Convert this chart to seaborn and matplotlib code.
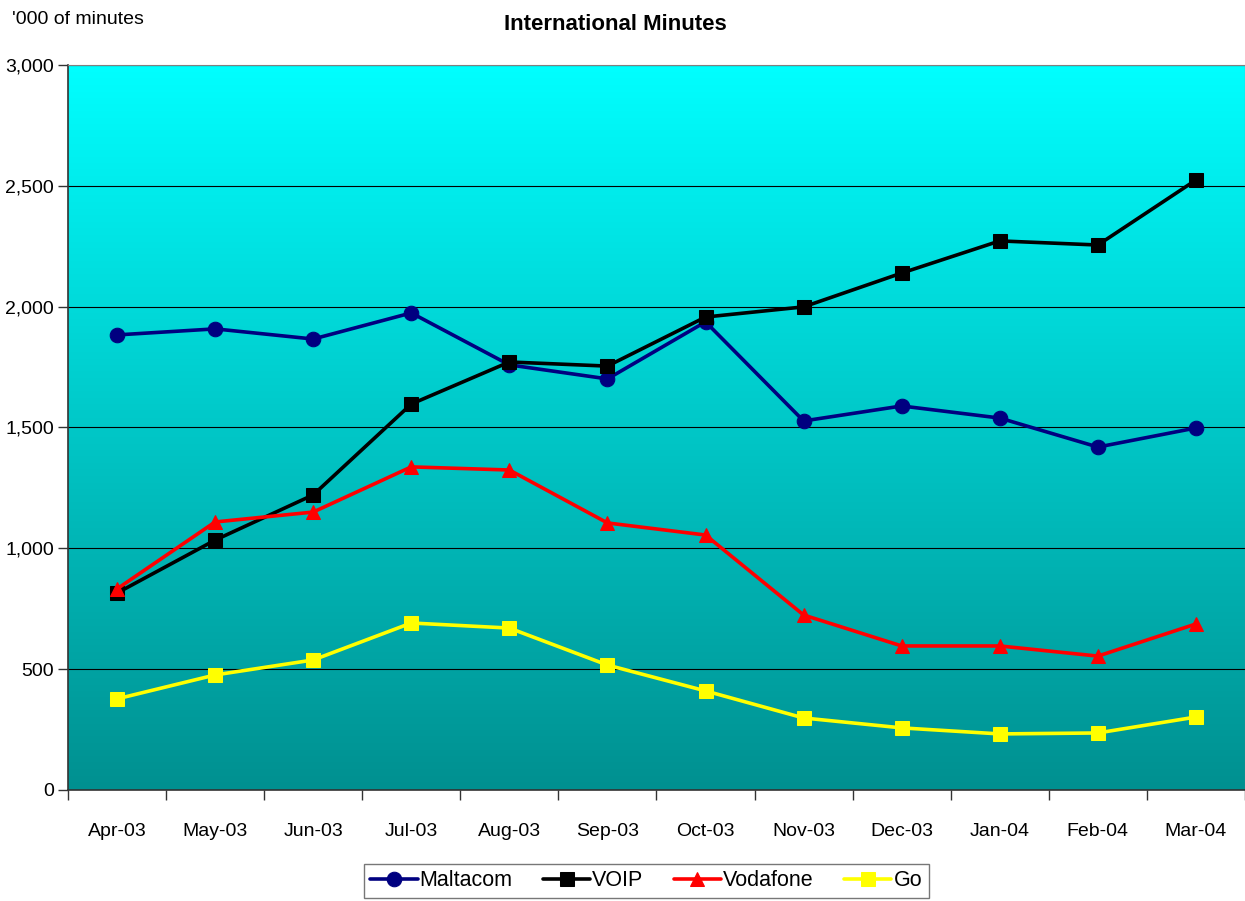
import matplotlib
matplotlib.use('Agg')
import matplotlib.pyplot as plt
from matplotlib.colors import LinearSegmentedColormap
from matplotlib.ticker import FuncFormatter, FixedLocator
import seaborn as sns
import numpy as np

months = ['Apr-03', 'May-03', 'Jun-03', 'Jul-03', 'Aug-03', 'Sep-03',
          'Oct-03', 'Nov-03', 'Dec-03', 'Jan-04', 'Feb-04', 'Mar-04']
maltacom = [1883, 1908, 1866, 1974, 1759, 1701, 1937, 1527, 1589, 1539, 1419, 1498]
voip = [815, 1034, 1221, 1597, 1771, 1754, 1957, 1999, 2139, 2272, 2255, 2524]
vodafone = [832, 1109, 1150, 1337, 1324, 1105, 1055, 724, 596, 596, 554, 687]
go = [377, 476, 538, 691, 670, 517, 410, 298, 257, 232, 236, 302]

sns.set_style('white')
plt.rcParams['font.family'] = ['Liberation Sans', 'DejaVu Sans']
plt.rcParams['text.color'] = 'black'

fig = plt.figure(figsize=(12.45, 9.01), dpi=100)
ax = fig.add_axes([0.0546, 0.1232, 0.9454, 0.8047])

# gradient background: cyan at top -> teal at bottom
cmap = LinearSegmentedColormap.from_list('bg', ['#009090', '#00FFFF'])
grad = np.linspace(0, 1, 256).reshape(-1, 1)
ax.imshow(grad, aspect='auto', cmap=cmap, origin='lower',
          extent=[0, 1, 0, 1], transform=ax.transAxes, zorder=0)

x = np.arange(len(months))
series = [('Maltacom', maltacom, '#000080', 'o', 10.5),
          ('VOIP', voip, 'black', 's', 9.5),
          ('Vodafone', vodafone, '#FF0000', '^', 10.5),
          ('Go', go, '#FFFF00', 's', 9.5)]
for name, vals, c, m, ms in series:
    sns.lineplot(x=x, y=vals, ax=ax, color=c, marker=m, markersize=ms,
                 linewidth=2.6, markeredgecolor=c, label=name, zorder=3)

ax.set_xlim(-0.5, len(months) - 0.5)
ax.set_ylim(0, 3000)
ax.set_yticks(np.arange(0, 3001, 500))
ax.yaxis.set_major_formatter(FuncFormatter(lambda v, p: f'{int(v):,}'))
ax.grid(axis='y', color='black', linewidth=0.8, zorder=1)

ax.set_xticks(x)
ax.set_xticklabels(months)
ax.xaxis.set_minor_locator(FixedLocator(np.arange(-0.5, len(months), 1)))
ax.tick_params(axis='x', which='major', bottom=True, length=0, pad=24,
               labelsize=14, labelcolor='black')
ax.tick_params(axis='x', which='minor', bottom=True, length=7, width=1,
               color='#333333', direction='out')
ax.tick_params(axis='y', left=True, length=7, width=1, color='#333333',
               direction='out', labelsize=14, pad=3, labelcolor='black')

for s in ['top', 'right']:
    ax.spines[s].set_visible(True)
    ax.spines[s].set_color('#808080')
for s in ['left', 'bottom']:
    ax.spines[s].set_color('#333333')
    ax.spines[s].set_linewidth(1.2)

ax.set_xlabel('')
ax.set_ylabel('')

fig.text(0.494, 0.973, 'International Minutes', ha='center', va='center',
         fontsize=16, fontweight='bold')
fig.text(0.01, 0.978, "'000 of minutes", ha='left', va='center', fontsize=14)

ax.legend_.remove()
handles, labels = ax.get_legend_handles_labels()
leg = fig.legend(handles, labels, loc='upper center', bbox_to_anchor=(0.519, 0.053),
                 ncol=4, frameon=True, fancybox=False, fontsize=15.5,
                 handlelength=2.2, columnspacing=1.4, handletextpad=0.1,
                 borderpad=0.3, edgecolor='#555555')
leg.get_frame().set_linewidth(1.0)

fig.savefig('out.png', dpi=100)
